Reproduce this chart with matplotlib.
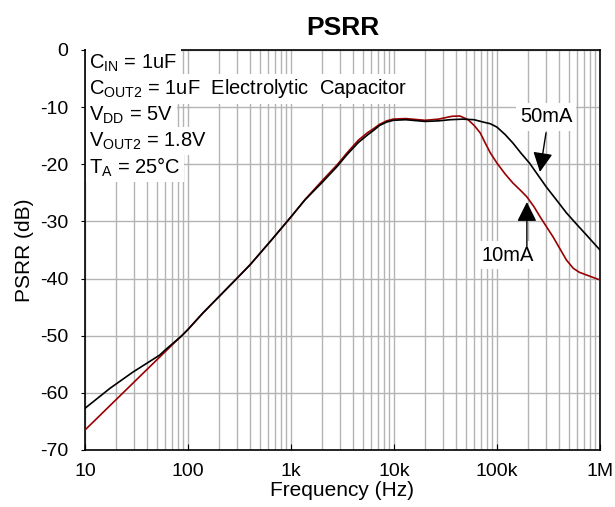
import matplotlib
matplotlib.use('Agg')
import matplotlib.pyplot as plt
import numpy as np

plt.rcParams['font.family'] = ['Liberation Sans', 'DejaVu Sans']
plt.rcParams['axes.unicode_minus'] = False

# 50mA curve (Hz, dB)
f_50 = [10, 17.5, 29, 53, 60, 75, 87, 100, 140, 204, 297, 400, 499, 650, 842, 1000, 1364,
        2000, 2800, 3500, 4500, 5500, 6300, 7250, 8500, 9900, 13000, 20000, 27000, 35000,
        46000, 60000, 73000, 86000, 100000, 120000, 143000, 170000, 207000, 250000,
        302000, 380000, 472000, 600000, 741000, 870000, 1000000]
db_50 = [-62.7, -59.2, -56.4, -53.4, -52.5, -51.0, -50.0, -48.9, -46.0, -43.0, -40.0, -37.6, -35.6, -33.2, -30.8, -29.2, -26.25,
         -23.2, -20.4, -18.3, -16.2, -14.9, -14.1, -13.2, -12.6, -12.3, -12.2, -12.5, -12.4, -12.2,
         -12.1, -12.2, -12.6, -12.9, -13.5, -14.8, -16.3, -18.0, -19.8, -21.9,
         -24.0, -26.3, -28.5, -30.6, -32.4, -33.8, -35.0]

# 10mA curve (Hz, dB)
f_10 = [10, 30, 60, 75, 87, 100, 140, 204, 297, 400, 499, 650, 842, 1000, 1364,
        2000, 2800, 3500, 4500, 5500, 6300, 7250, 8500, 9800, 13000, 20000, 27000,
        36600, 43700, 52400, 60000, 68700, 77000, 86100, 100000, 120000, 143000, 170000,
        195000, 230000, 262000, 350000, 472000, 550000, 630000, 800000, 1000000]
db_10 = [-66.5, -58.1, -52.8, -51.1, -50.0, -48.9, -46.0, -43.0, -40.0, -37.6, -35.6, -33.2, -30.8, -29.2, -26.2,
         -22.9, -20.1, -18.0, -15.8, -14.5, -13.8, -13.0, -12.4, -12.1, -12.0, -12.3, -12.1,
         -11.6, -11.55, -12.2, -13.2, -14.5, -16.3, -18.0, -19.8, -21.7, -23.3, -24.6,
         -25.7, -27.5, -29.2, -32.7, -36.75, -38.2, -38.9, -39.6, -40.25]

xticks = [10, 100, 1e3, 1e4, 1e5, 1e6]
xtick_labels = ['10', '100', '1k', '10k', '100k', '1M']
yticks = [0, -10, -20, -30, -40, -50, -60, -70]

conditions = [r'C$_{\mathregular{IN}}$ = 1uF',
              r'C$_{\mathregular{OUT2}}$ = 1uF  Electrolytic  Capacitor',
              r'V$_{\mathregular{DD}}$ = 5V',
              r'V$_{\mathregular{OUT2}}$ = 1.8V',
              r'T$_{\mathregular{A}}$ = 25°C']

fig = plt.figure(figsize=(6.15, 5.07), dpi=100)
ax = fig.add_axes([85/615, 1-450/507, 515/615, 400/507])

ax.semilogx(f_50, db_50, color='black', lw=1.2, zorder=4)
ax.semilogx(f_10, db_10, color='#990000', lw=1.2, zorder=3)

ax.set_xlim(10, 1e6)
ax.set_ylim(-70, 0)
ax.set_xticks(xticks)
ax.set_xticklabels(xtick_labels)
ax.set_yticks(yticks)
ax.xaxis.set_minor_locator(matplotlib.ticker.LogLocator(base=10, subs=np.arange(2, 10)))
ax.xaxis.set_minor_formatter(matplotlib.ticker.NullFormatter())
ax.grid(True, which='both', axis='x', color='#b4b4b4', lw=1)
ax.grid(True, which='major', axis='y', color='#b4b4b4', lw=1)
ax.tick_params(axis='x', which='major', direction='in', length=4, pad=9, labelsize=14)
ax.tick_params(axis='x', which='minor', length=0)
ax.tick_params(axis='y', direction='out', length=3, pad=9, labelsize=14)
for s in ax.spines.values():
    s.set_linewidth(1.2)

ax.set_title('PSRR', fontsize=19, fontweight='bold', pad=11)
ax.set_xlabel('Frequency (Hz)', fontsize=15, labelpad=1)
ax.set_ylabel('PSRR (dB)', fontsize=15, labelpad=4)

# condition text block, white background hides the grid
for i, line in enumerate(conditions):
    ax.text(0.008, 0.9675 - i*0.065, line, transform=ax.transAxes, fontsize=14.5,
            va='center', ha='left', zorder=5,
            bbox=dict(facecolor='white', edgecolor='none', pad=2.5))

arrow = dict(arrowstyle='-|>,head_length=0.6,head_width=0.3', color='black', lw=1,
             mutation_scale=20, shrinkA=0, shrinkB=0)
ax.text(2.99e5, -11.7, '50mA', fontsize=14.5, ha='center', va='center', zorder=6,
        bbox=dict(facecolor='white', edgecolor='none', pad=3))
ax.annotate('', xy=(2.61e5, -21.35), xytext=(2.99e5, -14.5), arrowprops=arrow, zorder=6)
ax.text(1.28e5, -35.9, '10mA', fontsize=14.5, ha='center', va='center', zorder=6,
        bbox=dict(facecolor='white', edgecolor='none', pad=3))
ax.annotate('', xy=(1.95e5, -26.6), xytext=(1.95e5, -34.5), arrowprops=arrow, zorder=6)

fig.savefig('out.png', dpi=100)
